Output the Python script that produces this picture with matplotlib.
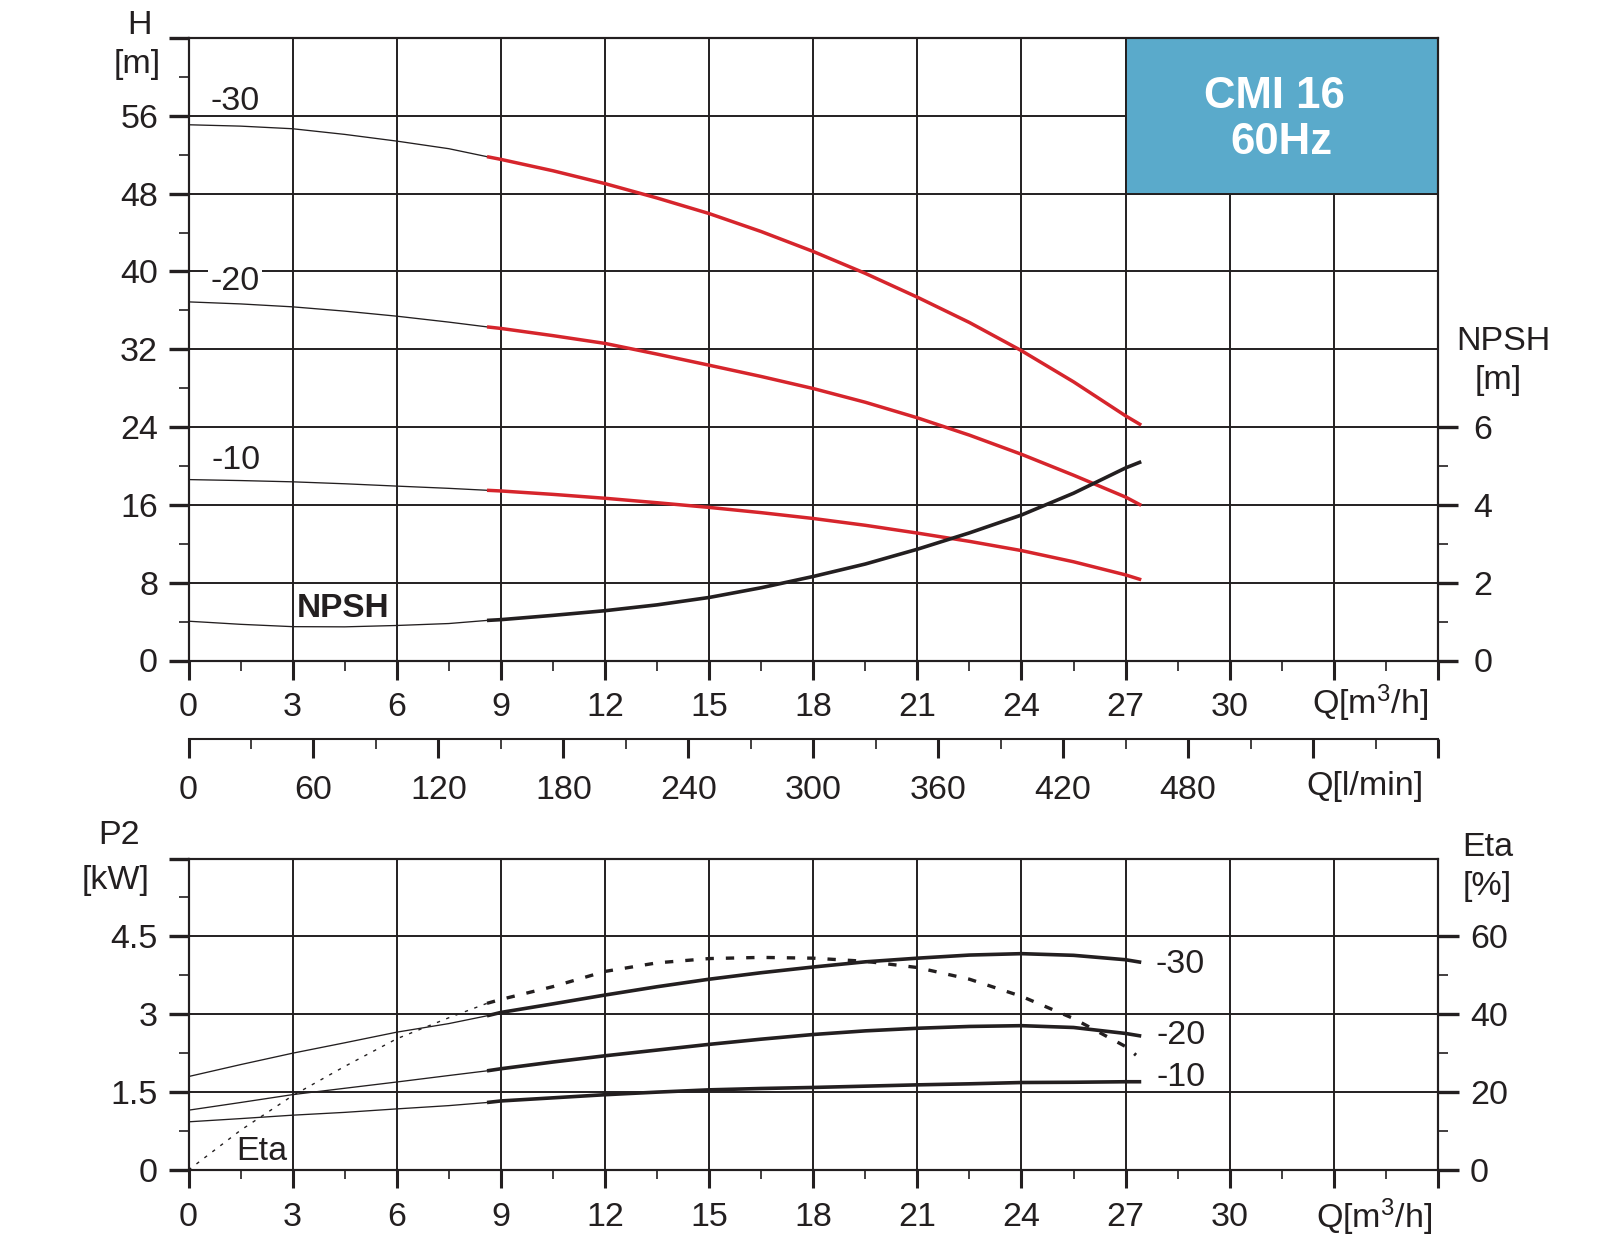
import matplotlib
matplotlib.use('Agg')
import matplotlib.pyplot as plt
from matplotlib.patches import Rectangle

plt.rcParams['font.family'] = ['Liberation Sans', 'DejaVu Sans']
plt.rcParams['font.size'] = 24.5
plt.rcParams['mathtext.fontset'] = 'custom'
plt.rcParams['mathtext.rm'] = 'Liberation Sans'
plt.rcParams['mathtext.it'] = 'Liberation Sans'

INK = '#231f20'
RED = '#d6252c'
BLUE = '#5aaacb'

# flow points: thin part (0..8.6) and operating range (8.6..27.45), m3/h
q_lo = [0, 1.5, 3, 4.5, 6, 7.5, 8.6]
q_hi = [8.6, 9, 10.5, 12, 13.5, 15, 16.5, 18, 19.5, 21, 22.5, 24, 25.5, 27, 27.45]
q_eta_hi = [8.6, 9, 10.5, 12, 13.5, 15, 16.5, 18, 19.5, 21, 22.5, 24, 25.5, 27, 27.3]

# head H [m]
h30_lo = [55.08, 54.94, 54.67, 54.09, 53.4, 52.62, 51.8]
h30_hi = [51.8, 51.52, 50.35, 49.03, 47.55, 45.95, 44.1, 42.05, 39.8, 37.35, 34.75, 31.85, 28.65, 25.15, 24.2]
h20_lo = [36.87, 36.66, 36.36, 35.92, 35.4, 34.79, 34.3]
h20_hi = [34.3, 34.14, 33.4, 32.6, 31.5, 30.36, 29.2, 27.96, 26.55, 24.95, 23.17, 21.2, 19.05, 16.8, 15.95]
h10_lo = [18.6, 18.5, 18.37, 18.17, 17.93, 17.7, 17.5]
h10_hi = [17.5, 17.43, 17.08, 16.68, 16.22, 15.74, 15.2, 14.6, 13.9, 13.1, 12.25, 11.3, 10.15, 8.8, 8.3]

# NPSH [m]
npsh_lo = [1.01, 0.93, 0.87, 0.865, 0.9, 0.95, 1.03]
npsh_hi = [1.03, 1.05, 1.16, 1.28, 1.43, 1.62, 1.87, 2.16, 2.48, 2.86, 3.28, 3.74, 4.3, 4.95, 5.11]

# power P2 [kW]
p30_lo = [1.8, 2.03, 2.25, 2.45, 2.655, 2.82, 2.97]
p30_hi = [2.97, 3.035, 3.2, 3.37, 3.53, 3.675, 3.8, 3.91, 4.01, 4.08, 4.14, 4.167, 4.135, 4.05, 4.0]
p20_lo = [1.152, 1.3, 1.452, 1.574, 1.695, 1.82, 1.91]
p20_hi = [1.91, 1.95, 2.08, 2.2, 2.31, 2.42, 2.52, 2.61, 2.68, 2.73, 2.765, 2.78, 2.745, 2.63, 2.58]
p10_lo = [0.928, 0.99, 1.056, 1.11, 1.177, 1.24, 1.3]
p10_hi = [1.3, 1.33, 1.39, 1.45, 1.5, 1.544, 1.57, 1.59, 1.615, 1.64, 1.66, 1.685, 1.69, 1.7, 1.7]

# efficiency Eta [%]
eta_lo = [0, 10.2, 19.1, 26.6, 33.7, 39.1, 42.8]
eta_hi = [42.8, 43.8, 47.1, 51.0, 53.2, 54.3, 54.6, 54.4, 53.6, 52.0, 49.0, 44.6, 38.9, 31.7, 29.5]

q_ticks = list(range(0, 37, 3))
q_labels = [str(v) if v <= 30 else '' for v in q_ticks]
lmin_ticks = list(range(0, 601, 60))
lmin_labels = [str(v) if v <= 480 else '' for v in lmin_ticks]
h_ticks = list(range(0, 65, 8))
h_labels = [str(v) if v <= 56 else '' for v in h_ticks]
npsh_ticks = [0, 2, 4, 6]
p_ticks = [0, 1.5, 3, 4.5, 6]
p_labels = ['0', '1.5', '3', '4.5', '']
eta_ticks = [0, 20, 40, 60]

W, H = 1605, 1255
fig = plt.figure(figsize=(W / 100, H / 100), dpi=100)


def rect(l, t, r, b):
    return [l / W, 1 - b / H, (r - l) / W, (b - t) / H]


def ftxt(x, y, s, **kw):
    fig.text(x / W, 1 - y / H, s, ha=kw.pop('ha', 'center'), va=kw.pop('va', 'center'), color=INK, **kw)


def style_axes(a):
    for sp in a.spines.values():
        sp.set_linewidth(1.5)
        sp.set_color(INK)
    a.grid(True, which='major', color=INK, lw=1.4)
    a.set_axisbelow(True)


# ---------------- top: H / NPSH ----------------
ax = fig.add_axes(rect(188.5, 38, 1438, 660.5))
ax.set_xlim(0, 36)
ax.set_ylim(0, 64)
ax.set_xticks(q_ticks, labels=q_labels)
ax.set_xticks([v + 1.5 for v in q_ticks[:-1]], minor=True)
ax.set_yticks(h_ticks, labels=h_labels)
ax.set_yticks([v + 4 for v in h_ticks[:-1]], minor=True)
style_axes(ax)
ax.tick_params(axis='x', which='major', length=13.7, width=2.2, pad=9, colors=INK)
ax.tick_params(axis='x', which='minor', length=7, width=1.2, colors=INK)
ax.tick_params(axis='y', which='major', length=14.4, width=2.4, pad=7.5, colors=INK)
ax.tick_params(axis='y', which='minor', length=6.9, width=1.2, colors=INK)

ax.add_patch(Rectangle((27, 48), 9, 16, facecolor=BLUE, edgecolor=INK, lw=1.4, zorder=1.5))
ax.text(31.3, 58.0, 'CMI 16', ha='center', va='center', color='white', fontsize=31.5, fontweight='bold')
ax.text(31.5, 53.3, '60Hz', ha='center', va='center', color='white', fontsize=31.5, fontweight='bold')

for lo, hi in [(h30_lo, h30_hi), (h20_lo, h20_hi), (h10_lo, h10_hi)]:
    ax.plot(q_lo, lo, color=INK, lw=0.95)
    ax.plot(q_hi, hi, color=RED, lw=2.5, solid_capstyle='butt')

ax.text(1.33, 57.43, '-30', ha='center', va='center', color=INK)
ax.text(1.34, 38.97, '-20', ha='center', va='center', color=INK,
        bbox=dict(facecolor='white', edgecolor='none', pad=2))
ax.text(1.38, 20.55, '-10', ha='center', va='center', color=INK)
ax.text(4.45, 5.3, 'NPSH', ha='center', va='center', color=INK, fontweight='bold', fontsize=24)

ax2 = ax.twinx()
ax2.set_ylim(0, 16)
ax2.set_yticks(npsh_ticks)
ax2.set_yticks([1, 3, 5], minor=True)
ax2.tick_params(axis='y', which='major', length=14.4, width=2.4, pad=11, colors=INK)
ax2.tick_params(axis='y', which='minor', length=7, width=1.2, colors=INK)
for sp in ax2.spines.values():
    sp.set_linewidth(1.5)
    sp.set_color(INK)
ax2.plot(q_lo, npsh_lo, color=INK, lw=0.95)
ax2.plot(q_hi, npsh_hi, color=INK, lw=2.6, solid_capstyle='butt')

# ---------------- l/min scale ----------------
axq = fig.add_axes(rect(188.5, 738.5, 1438, 738.5001))
axq.set_xlim(0, 600)
axq.patch.set_visible(False)
for s in ['top', 'left', 'right']:
    axq.spines[s].set_visible(False)
axq.spines['bottom'].set_linewidth(1.5)
axq.spines['bottom'].set_color(INK)
axq.set_yticks([])
axq.set_xticks(lmin_ticks, labels=lmin_labels)
axq.set_xticks([v + 30 for v in lmin_ticks[:-1]], minor=True)
axq.tick_params(axis='x', which='major', length=13.7, width=2.2, pad=12.5, colors=INK)
axq.tick_params(axis='x', which='minor', length=7, width=1.2, colors=INK)

# ---------------- bottom: P2 / Eta ----------------
ax3 = fig.add_axes(rect(188.5, 858.5, 1438, 1170))
ax3.set_xlim(0, 36)
ax3.set_ylim(0, 6)
ax3.set_xticks(q_ticks, labels=q_labels)
ax3.set_xticks([v + 1.5 for v in q_ticks[:-1]], minor=True)
ax3.set_yticks(p_ticks, labels=p_labels)
ax3.set_yticks([0.75, 2.25, 3.75, 5.25], minor=True)
style_axes(ax3)
ax3.tick_params(axis='x', which='major', length=13.2, width=2.2, pad=10, colors=INK)
ax3.tick_params(axis='x', which='minor', length=6.7, width=1.2, colors=INK)
ax3.tick_params(axis='y', which='major', length=14.4, width=2.4, pad=7.5, colors=INK)
ax3.tick_params(axis='y', which='minor', length=6.9, width=1.2, colors=INK)

for lo, hi in [(p30_lo, p30_hi), (p20_lo, p20_hi), (p10_lo, p10_hi)]:
    ax3.plot(q_lo, lo, color=INK, lw=0.95)
    ax3.plot(q_hi, hi, color=INK, lw=2.6, solid_capstyle='butt')

ax3.text(27.85, 3.96, '-30', ha='left', va='center', color=INK)
ax3.text(27.9, 2.6, '-20', ha='left', va='center', color=INK)
ax3.text(27.9, 1.78, '-10', ha='left', va='center', color=INK)
ax3.text(2.1, 0.35, 'Eta', ha='center', va='center', color=INK)

ax4 = ax3.twinx()
ax4.set_ylim(0, 80)
ax4.set_yticks(eta_ticks)
ax4.set_yticks([10, 30, 50], minor=True)
ax4.tick_params(axis='y', which='major', length=15, width=2.4, pad=8, colors=INK)
ax4.tick_params(axis='y', which='minor', length=7, width=1.2, colors=INK)
for sp in ax4.spines.values():
    sp.set_linewidth(1.5)
    sp.set_color(INK)
ax4.plot(q_lo, eta_lo, color=INK, lw=1.0, dashes=(2.4, 4.8))
ax4.plot(q_eta_hi, eta_hi, color=INK, lw=2.4, dashes=(2.5, 3.6))

# ---------------- axis titles ----------------
ftxt(140, 25, 'H')
ftxt(137, 64, '[m]')
ftxt(1503, 342, 'NPSH')
ftxt(1498, 381, '[m]')
ftxt(119, 836, 'P2')
ftxt(116, 881, '[kW]')
ftxt(1488, 847, 'Eta')
ftxt(1487, 886, '[%]')
ftxt(1428, 703, r'Q[m$^3$/h]', ha='right')
ftxt(1423, 786, 'Q[l/min]', ha='right')
ftxt(1432, 1217, r'Q[m$^3$/h]', ha='right')

fig.savefig('out.png', dpi=100)
